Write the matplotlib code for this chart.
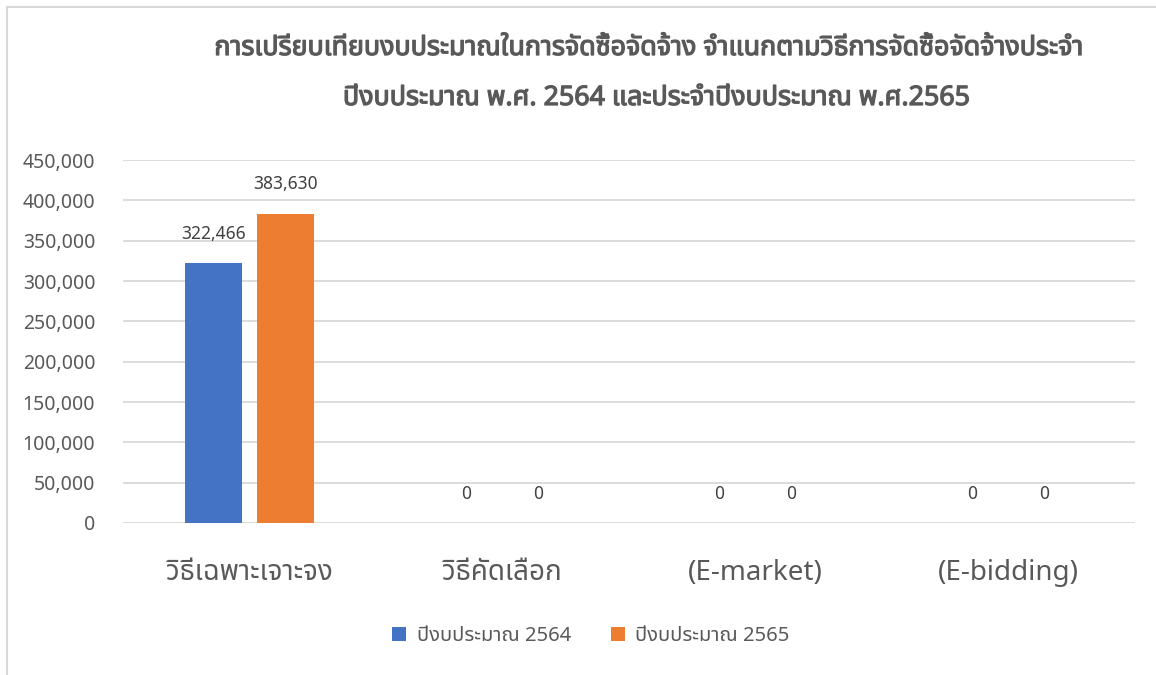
import matplotlib
matplotlib.use("Agg")
import matplotlib.pyplot as plt
from matplotlib import font_manager
from matplotlib.lines import Line2D
from matplotlib.ticker import FuncFormatter, MultipleLocator
import matplotlib.patheffects as pe
import numpy as np

# ---- data ----
categories = ["วิธีเฉพาะเจาะจง", "วิธีคัดเลือก", "(E-market)", "(E-bidding)"]
series_names = ["ปีงบประมาณ 2564", "ปีงบประมาณ 2565"]
values_2564 = [322466, 0, 0, 0]
values_2565 = [383630, 0, 0, 0]
title_lines = ["การเปรียบเทียบงบประมาณในการจัดซื้อจัดจ้าง จำแนกตามวิธีการจัดซื้อจัดจ้างประจำ",
               "ปีงบประมาณ พ.ศ. 2564 และประจำปีงบประมาณ พ.ศ.2565"]
colors = ["#4472C4", "#ED7D31"]

# ---- find a font with Thai glyphs ----
thai_family = None
has_bold = False
try:
    from fontTools.ttLib import TTFont
    prefs = ["Noto Sans Thai", "Noto Sans Thai UI", "Tahoma", "Leelawadee UI", "Loma", "Garuda",
             "Norasi", "Kinnari", "Sarabun", "TH Sarabun New"]
    found = {}
    weights = {}
    for fe in font_manager.fontManager.ttflist:
        try:
            tt = TTFont(fe.fname, fontNumber=0, lazy=True)
            cmap = tt.getBestCmap()
            if cmap and 0x0E01 in cmap and 0x0E33 in cmap:
                found.setdefault(fe.name, fe)
                w = fe.weight if isinstance(fe.weight, int) else 400
                weights.setdefault(fe.name, set()).add(w)
        except Exception:
            pass
    for p in prefs:
        if p in found:
            thai_family = p
            break
    if thai_family is None and found:
        thai_family = sorted(found.keys())[0]
    if thai_family:
        has_bold = any(w >= 600 for w in weights.get(thai_family, []))
except Exception:
    thai_family = None

fams = ([thai_family] if thai_family else []) + ["DejaVu Sans"]
plt.rcParams["font.family"] = fams

text_gray = "#595959"
grid_gray = "#D9D9D9"

fig = plt.figure(figsize=(11.56, 6.75), dpi=100)
W, H = 1156, 675
ax = fig.add_axes([123 / W, 1 - 523 / H, (1135 - 123) / W, (523 - 160) / H])

x = np.arange(len(categories))
bw = 0.225
off = 0.1425
b1 = ax.bar(x - off, values_2564, bw, color=colors[0], label=series_names[0], zorder=3)
b2 = ax.bar(x + off, values_2565, bw, color=colors[1], label=series_names[1], zorder=3)

for bars, vals in ((b1, values_2564), (b2, values_2565)):
    for r, v in zip(bars, vals):
        ax.annotate(f"{v:,.0f}", (r.get_x() + r.get_width() / 2, v),
                    xytext=(0, 21), textcoords="offset points", ha="center", va="center",
                    fontsize=12.5, color="#404040")

ax.set_xlim(-0.5, len(categories) - 0.5)
ax.set_ylim(0, 450000)
ax.yaxis.set_major_locator(MultipleLocator(50000))
ax.yaxis.set_major_formatter(FuncFormatter(lambda v, p: f"{v:,.0f}"))
ax.grid(axis="y", color=grid_gray, linewidth=1.3, zorder=0)
ax.set_axisbelow(True)
for s in ax.spines.values():
    s.set_visible(False)
ax.tick_params(axis="y", length=0, pad=20, labelsize=14, labelcolor=text_gray)
ax.tick_params(axis="x", length=0, pad=26, labelsize=20, labelcolor=text_gray)
ax.set_xticks(x)
ax.set_xticklabels(categories)

# title (faux-bold stroke if no bold face available)
effects = [] if has_bold else [pe.withStroke(linewidth=0.9, foreground=text_gray)]
t1 = fig.text(648 / W, 1 - 48 / H, title_lines[0], ha="center", va="center",
              fontsize=19.3, fontweight="bold", color=text_gray, path_effects=effects)
t2 = fig.text(656 / W, 1 - 98 / H, title_lines[1], ha="center", va="center",
              fontsize=19.3, fontweight="bold", color=text_gray, path_effects=effects)

# legend
leg = fig.legend(handles=[b1, b2], loc="center", bbox_to_anchor=(591 / W, 1 - 636 / H),
                 ncol=2, frameon=False, fontsize=14.5, handlelength=0.7, handleheight=0.7,
                 handletextpad=0.5, columnspacing=2.0)
for t in leg.get_texts():
    t.set_color(text_gray)

# chart border
fig.add_artist(Line2D([6.5 / W, 6.5 / W], [0, 1 - 6.5 / H], transform=fig.transFigure,
                      color=grid_gray, linewidth=1.5))
fig.add_artist(Line2D([6.5 / W, 1], [1 - 6.5 / H, 1 - 6.5 / H], transform=fig.transFigure,
                      color=grid_gray, linewidth=1.5))

fig.savefig("out.png", dpi=100)
